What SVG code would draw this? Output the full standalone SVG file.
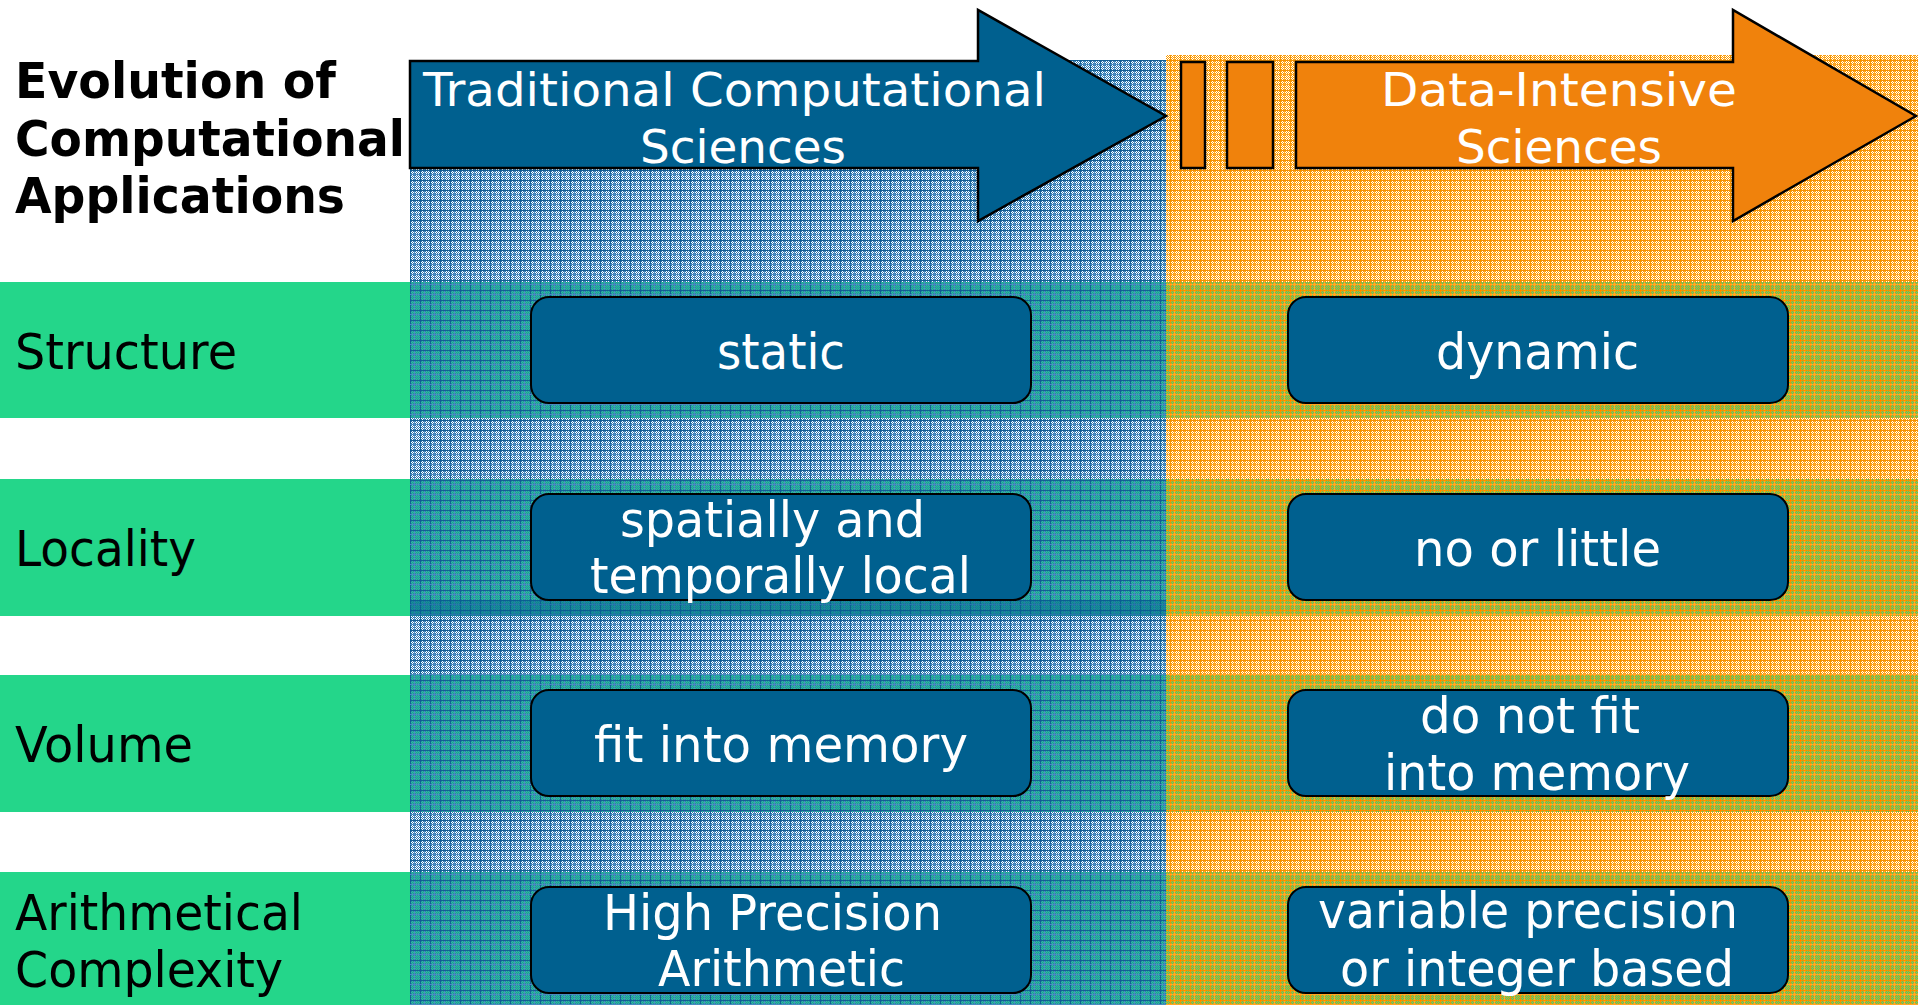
<svg xmlns="http://www.w3.org/2000/svg" width="1918" height="1005" viewBox="0 0 1918 1005">
  <defs>
    <style>
      .lbl { font-family: "DejaVu Sans", "Liberation Sans", sans-serif; font-size: 49px; fill: #000; }
      .ttl { font-family: "DejaVu Sans", "Liberation Sans", sans-serif; font-size: 49px; font-weight: bold; fill: #000; }
      .wt  { font-family: "DejaVu Sans", "Liberation Sans", sans-serif; font-size: 49px; fill: #fff; }
      .hd  { font-family: "DejaVu Sans", "Liberation Sans", sans-serif; font-size: 47px; fill: #fff; }
      .box { fill: #00608f; stroke: #000; stroke-width: 2; }
      .blueArrow { fill: #00608f; stroke: #000; stroke-width: 2.5; stroke-linejoin: miter; }
      .orangeArrow { fill: #f0820c; stroke: #000; stroke-width: 2.5; stroke-linejoin: miter; }
      .stripe { fill: #24d68a; }
    </style>
    <!-- half-tone dither cells: every other pixel coloured, the rest lets the layer below show -->
    <pattern id="ditherBlue" width="2" height="2" patternUnits="userSpaceOnUse">
      <rect width="1" height="1" fill="#2a78b0"/>
      <rect x="1" y="1" width="1" height="1" fill="#2a78b0"/>
    </pattern>
    <pattern id="ditherOrange" width="2" height="2" patternUnits="userSpaceOnUse">
      <rect width="1" height="1" fill="#ff9c00"/>
      <rect x="1" y="1" width="1" height="1" fill="#ff9c00"/>
    </pattern>
    <!-- plaid textures for the two column backgrounds -->
    <pattern id="plaidBlue" width="10" height="10" patternUnits="userSpaceOnUse" shape-rendering="crispEdges">
      <rect width="10" height="10" fill="url(#ditherBlue)"/>
      <rect x="0" width="1" height="10" fill="#135f94"/>
      <rect x="4" width="1" height="10" fill="#4a8cbf"/>
      <rect y="0" width="10" height="1" fill="#135f94"/>
      <rect y="4" width="10" height="1" fill="#4a8cbf"/>
    </pattern>
    <pattern id="plaidOrange" width="10" height="10" patternUnits="userSpaceOnUse" shape-rendering="crispEdges">
      <rect width="10" height="10" fill="url(#ditherOrange)"/>
      <rect x="0" width="1" height="10" fill="#f59200"/>
      <rect x="4" width="1" height="10" fill="#ffa828"/>
      <rect y="0" width="10" height="1" fill="#f59200"/>
      <rect y="4" width="10" height="1" fill="#ffa828"/>
    </pattern>
  </defs>

  <!-- page -->
  <rect width="1918" height="1005" fill="#fff"/>

  <!-- row stripes (under the textured columns) -->
  <g id="stripes">
    <rect class="stripe" x="0" y="282" width="1918" height="136"/>
    <rect class="stripe" x="0" y="479" width="1918" height="137"/>
    <rect class="stripe" x="0" y="675" width="1918" height="137"/>
    <rect class="stripe" x="0" y="872" width="1918" height="133"/>
  </g>

  <!-- textured column backgrounds -->
  <g id="columns" shape-rendering="crispEdges">
    <rect x="410" y="60" width="756" height="945" fill="url(#plaidBlue)"/>
    <rect x="1166" y="55" width="752" height="950" fill="url(#plaidOrange)"/>
    <rect x="410" y="600" width="756" height="16" fill="#00608f" opacity="0.45"/>
  </g>

  <!-- title -->
  <g id="title">
    <text class="ttl" x="15" y="98" textLength="321" lengthAdjust="spacingAndGlyphs">Evolution of</text>
    <text class="ttl" x="15" y="156" textLength="390" lengthAdjust="spacingAndGlyphs">Computational</text>
    <text class="ttl" x="15" y="213" textLength="330" lengthAdjust="spacingAndGlyphs">Applications</text>
  </g>

  <!-- header arrows -->
  <g id="arrow-traditional">
    <path class="blueArrow" d="M410,61 H978 V10 L1166,116 L978,221 V168 H410 Z"/>
    <text class="hd" x="423" y="106" textLength="623" lengthAdjust="spacingAndGlyphs">Traditional Computational</text>
    <text class="hd" x="640" y="163" textLength="206" lengthAdjust="spacingAndGlyphs">Sciences</text>
  </g>
  <g id="arrow-data-intensive">
    <rect class="orangeArrow" x="1181" y="62" width="24" height="106"/>
    <rect class="orangeArrow" x="1227" y="62" width="46" height="106"/>
    <path class="orangeArrow" d="M1296,62 H1733 V10 L1916,116 L1733,221 V168 H1296 Z"/>
    <text class="hd" x="1381" y="106" textLength="356" lengthAdjust="spacingAndGlyphs">Data-Intensive</text>
    <text class="hd" x="1456" y="163" textLength="206" lengthAdjust="spacingAndGlyphs">Sciences</text>
  </g>

  <!-- row labels -->
  <g id="label-structure"><text class="lbl" x="15" y="369" textLength="222" lengthAdjust="spacingAndGlyphs">Structure</text></g>
  <g id="label-locality"><text class="lbl" x="15" y="566" textLength="181" lengthAdjust="spacingAndGlyphs">Locality</text></g>
  <g id="label-volume"><text class="lbl" x="15" y="762" textLength="178" lengthAdjust="spacingAndGlyphs">Volume</text></g>
  <g id="label-arithmetical">
    <text class="lbl" x="15" y="930" textLength="288" lengthAdjust="spacingAndGlyphs">Arithmetical</text>
    <text class="lbl" x="15" y="987" textLength="268" lengthAdjust="spacingAndGlyphs">Complexity</text>
  </g>

  <!-- traditional column cells -->
  <g id="cell-static">
    <rect class="box" x="531" y="297" width="500" height="106" rx="18"/>
    <text class="wt" x="717" y="369" textLength="128" lengthAdjust="spacingAndGlyphs">static</text>
  </g>
  <g id="cell-local">
    <rect class="box" x="531" y="494" width="500" height="106" rx="18"/>
    <text class="wt" x="620" y="537" textLength="305" lengthAdjust="spacingAndGlyphs">spatially and</text>
    <text class="wt" x="590" y="593" textLength="381" lengthAdjust="spacingAndGlyphs">temporally local</text>
  </g>
  <g id="cell-fit">
    <rect class="box" x="531" y="690" width="500" height="106" rx="18"/>
    <text class="wt" x="594" y="762" textLength="374" lengthAdjust="spacingAndGlyphs">fit into memory</text>
  </g>
  <g id="cell-high-precision">
    <rect class="box" x="531" y="887" width="500" height="106" rx="18"/>
    <text class="wt" x="603" y="930" textLength="339" lengthAdjust="spacingAndGlyphs">High Precision</text>
    <text class="wt" x="658" y="986" textLength="247" lengthAdjust="spacingAndGlyphs">Arithmetic</text>
  </g>

  <!-- data-intensive column cells -->
  <g id="cell-dynamic">
    <rect class="box" x="1288" y="297" width="500" height="106" rx="18"/>
    <text class="wt" x="1436" y="369" textLength="203" lengthAdjust="spacingAndGlyphs">dynamic</text>
  </g>
  <g id="cell-little">
    <rect class="box" x="1288" y="494" width="500" height="106" rx="18"/>
    <text class="wt" x="1414" y="566" textLength="247" lengthAdjust="spacingAndGlyphs">no or little</text>
  </g>
  <g id="cell-not-fit">
    <rect class="box" x="1288" y="690" width="500" height="106" rx="18"/>
    <text class="wt" x="1420" y="733" textLength="220" lengthAdjust="spacingAndGlyphs">do not fit</text>
    <text class="wt" x="1384" y="790" textLength="306" lengthAdjust="spacingAndGlyphs">into memory</text>
  </g>
  <g id="cell-variable">
    <rect class="box" x="1288" y="887" width="500" height="106" rx="18"/>
    <text class="wt" x="1318" y="928" textLength="420" lengthAdjust="spacingAndGlyphs">variable precision</text>
    <text class="wt" x="1340" y="986" textLength="394" lengthAdjust="spacingAndGlyphs">or integer based</text>
  </g>

  <g id="connectors"/>
</svg>
